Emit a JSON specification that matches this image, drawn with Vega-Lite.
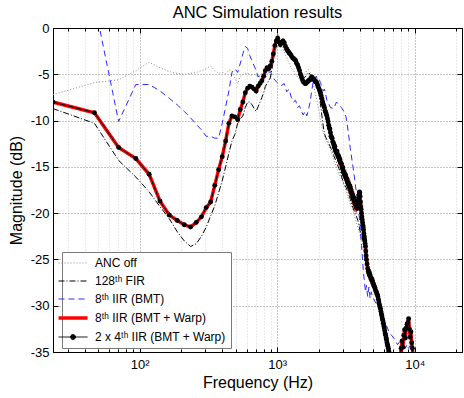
{
  "$schema": "https://vega.github.io/schema/vega-lite/v6.json",
  "width": 409,
  "height": 324,
  "autosize": {"type": "none"},
  "padding": {"left": 53, "top": 28, "right": 2, "bottom": 46},
  "config": {
    "font": "Liberation Sans",
    "view": {"stroke": "black", "strokeWidth": 1},
    "axis": {"labelColor": "black", "titleColor": "black", "tickColor": "black", "domainColor": "black", "labelFontSize": 13, "titleFontSize": 16, "titleFontWeight": "normal", "labelFont": "Liberation Sans", "titleFont": "Liberation Sans"}
  },
  "title": {"text": "ANC Simulation results", "fontSize": 16.5, "fontWeight": "normal", "color": "black", "offset": 1, "font": "Liberation Sans"},
  "datasets": {
    "off": [
      {"f": 23.4, "v": -7.2}, {"f": 46.9, "v": -5.9}, {"f": 70.3, "v": -5.6}, {"f": 93.8, "v": -4.6}, {"f": 117.2, "v": -3.7},
      {"f": 140.6, "v": -4.3}, {"f": 164.1, "v": -4.7}, {"f": 187.5, "v": -4.9}, {"f": 210.9, "v": -5.0}, {"f": 234.4, "v": -4.9},
      {"f": 257.8, "v": -4.8}, {"f": 281.3, "v": -4.6}, {"f": 304.7, "v": -4.4}, {"f": 328.1, "v": -4.1}, {"f": 351.6, "v": -4.6},
      {"f": 375, "v": -4.9}, {"f": 398.4, "v": -4.8}, {"f": 421.9, "v": -4.9}, {"f": 445.3, "v": -4.5}, {"f": 468.8, "v": -4.7},
      {"f": 492.2, "v": -5.4}, {"f": 515.6, "v": -6.0}, {"f": 539.1, "v": -5.2}, {"f": 562.5, "v": -5.0}, {"f": 585.9, "v": -4.9},
      {"f": 609.4, "v": -4.9}, {"f": 656.3, "v": -5.1}, {"f": 703.1, "v": -5.0}, {"f": 750, "v": -5.3}, {"f": 796.9, "v": -5.6},
      {"f": 843.8, "v": -5.0}, {"f": 890.6, "v": -4.4}, {"f": 937.5, "v": -3.2}, {"f": 984.4, "v": -2.2}, {"f": 1031.3, "v": -1.8},
      {"f": 1078.1, "v": -2.0}, {"f": 1125, "v": -2.6}, {"f": 1171.9, "v": -3.2}, {"f": 1218.8, "v": -3.8}, {"f": 1265.6, "v": -4.3},
      {"f": 1312.5, "v": -4.6}, {"f": 1359.4, "v": -5.0}, {"f": 1406.3, "v": -5.3}, {"f": 1453.1, "v": -5.6}, {"f": 1500, "v": -5.5},
      {"f": 1546.9, "v": -5.2}, {"f": 1593.8, "v": -4.9}, {"f": 1640.6, "v": -4.6}, {"f": 1687.5, "v": -4.5}, {"f": 1734.4, "v": -4.8},
      {"f": 1781.3, "v": -5.4}, {"f": 1828.1, "v": -6.0}, {"f": 1875, "v": -6.8}, {"f": 1921.9, "v": -7.5}, {"f": 1968.8, "v": -8.2},
      {"f": 2015.6, "v": -9.0}, {"f": 2062.5, "v": -9.9}, {"f": 2109.4, "v": -10.6}, {"f": 2156.3, "v": -11.2}, {"f": 2203.1, "v": -11.5},
      {"f": 2250, "v": -12.0}, {"f": 2343.8, "v": -12.6}, {"f": 2437.5, "v": -13.2}, {"f": 2578.1, "v": -14.3}, {"f": 2695.3, "v": -15.0},
      {"f": 2812.5, "v": -15.8}, {"f": 2929.7, "v": -16.3}, {"f": 3046.9, "v": -17.0}, {"f": 3164.1, "v": -17.6}, {"f": 3281.3, "v": -18.3},
      {"f": 3398.4, "v": -19.0}, {"f": 3515.6, "v": -19.6}, {"f": 3632.8, "v": -20.2}, {"f": 3750, "v": -21.0}, {"f": 3867.2, "v": -21.6},
      {"f": 3984.4, "v": -22.3}, {"f": 4101.6, "v": -23.0}, {"f": 4242.2, "v": -24.0}, {"f": 4382.8, "v": -24.8}, {"f": 4546.9, "v": -25.6},
      {"f": 4734.4, "v": -26.4}, {"f": 4921.9, "v": -27.2}, {"f": 5156.3, "v": -28.0}, {"f": 5390.6, "v": -28.8}, {"f": 5625, "v": -30.0},
      {"f": 5859.4, "v": -31.2}, {"f": 6093.8, "v": -32.5}, {"f": 6328.1, "v": -33.8}, {"f": 6562.5, "v": -35.2}, {"f": 7031.3, "v": -37},
      {"f": 7968.8, "v": -36}, {"f": 8320.3, "v": -34.0}, {"f": 8671.9, "v": -33.4}, {"f": 9023.4, "v": -32.6}, {"f": 9375, "v": -33.8},
      {"f": 9726.6, "v": -35.5}
    ],
    "fir": [
      {"f": 23.4, "v": -8.7}, {"f": 46.9, "v": -10.3}, {"f": 70.3, "v": -14.3}, {"f": 93.8, "v": -16.1}, {"f": 117.2, "v": -17.7},
      {"f": 140.6, "v": -19.3}, {"f": 164.1, "v": -20.6}, {"f": 187.5, "v": -22.0}, {"f": 210.9, "v": -23.0}, {"f": 234.4, "v": -23.6},
      {"f": 257.8, "v": -23.3}, {"f": 281.3, "v": -22.5}, {"f": 304.7, "v": -21.5}, {"f": 328.1, "v": -20.3}, {"f": 351.6, "v": -19.2},
      {"f": 375, "v": -17.8}, {"f": 398.4, "v": -16.5}, {"f": 421.9, "v": -15.0}, {"f": 445.3, "v": -13.5}, {"f": 468.8, "v": -12.2},
      {"f": 492.2, "v": -11.5}, {"f": 515.6, "v": -10.3}, {"f": 539.1, "v": -9.8}, {"f": 562.5, "v": -9.5}, {"f": 585.9, "v": -8.6},
      {"f": 609.4, "v": -8.0}, {"f": 632.8, "v": -8.0}, {"f": 656.3, "v": -8.3}, {"f": 679.7, "v": -8.7}, {"f": 703.1, "v": -9.0},
      {"f": 726.6, "v": -8.5}, {"f": 750, "v": -8.0}, {"f": 773.4, "v": -7.5}, {"f": 796.9, "v": -7.0}, {"f": 820.3, "v": -6.3},
      {"f": 843.8, "v": -6.0}, {"f": 890.6, "v": -5.4}, {"f": 914.1, "v": -4.5}, {"f": 937.5, "v": -3.4}, {"f": 960.9, "v": -2.5},
      {"f": 984.4, "v": -1.8}, {"f": 1007.8, "v": -1.6}, {"f": 1031.3, "v": -1.8}, {"f": 1078.1, "v": -1.4}, {"f": 1125, "v": -1.3},
      {"f": 1171.9, "v": -1.8}, {"f": 1218.8, "v": -2.3}, {"f": 1265.6, "v": -2.6}, {"f": 1312.5, "v": -3.2}, {"f": 1359.4, "v": -3.6},
      {"f": 1406.3, "v": -4.0}, {"f": 1453.1, "v": -4.5}, {"f": 1500, "v": -5.0}, {"f": 1546.9, "v": -5.4}, {"f": 1593.8, "v": -5.3},
      {"f": 1640.6, "v": -5.1}, {"f": 1687.5, "v": -4.8}, {"f": 1734.4, "v": -5.0}, {"f": 1781.3, "v": -5.3}, {"f": 1828.1, "v": -5.2},
      {"f": 1875, "v": -5.5}, {"f": 1921.9, "v": -6.0}, {"f": 1968.8, "v": -6.6}, {"f": 2015.6, "v": -7.2}, {"f": 2062.5, "v": -8.2},
      {"f": 2109.4, "v": -9.4}, {"f": 2156.3, "v": -10.5}, {"f": 2203.1, "v": -11.4}, {"f": 2250, "v": -11.8}, {"f": 2343.8, "v": -12.3},
      {"f": 2460.9, "v": -13.0}, {"f": 2578.1, "v": -13.8}, {"f": 2695.3, "v": -14.5}, {"f": 2812.5, "v": -15.2}, {"f": 2929.7, "v": -16.0},
      {"f": 3046.9, "v": -16.8}, {"f": 3164.1, "v": -17.2}, {"f": 3281.3, "v": -17.8}, {"f": 3398.4, "v": -18.5}, {"f": 3515.6, "v": -19.2},
      {"f": 3632.8, "v": -19.8}, {"f": 3750, "v": -20.3}, {"f": 3867.2, "v": -20.8}, {"f": 3984.4, "v": -21.8}, {"f": 4101.6, "v": -22.5},
      {"f": 4218.8, "v": -23.0}, {"f": 4335.9, "v": -23.8}, {"f": 4453.1, "v": -24.5}, {"f": 4570.3, "v": -25.2}, {"f": 4687.5, "v": -25.8},
      {"f": 4921.9, "v": -26.8}, {"f": 5156.3, "v": -27.6}, {"f": 5390.6, "v": -28.4}, {"f": 5625, "v": -29.6}, {"f": 5859.4, "v": -30.8},
      {"f": 6093.8, "v": -32.0}, {"f": 6328.1, "v": -33.2}, {"f": 6562.5, "v": -34.5}, {"f": 6796.9, "v": -36}, {"f": 7968.8, "v": -36},
      {"f": 8203.1, "v": -34.5}, {"f": 8437.5, "v": -33.4}, {"f": 8671.9, "v": -33.0}, {"f": 8906.3, "v": -32.3}, {"f": 9140.6, "v": -33.0},
      {"f": 9375, "v": -33.6}, {"f": 9609.4, "v": -35}, {"f": 9843.8, "v": -37}
    ],
    "iir": [
      {"f": 23.4, "v": 6}, {"f": 46.9, "v": 2.7}, {"f": 70.3, "v": -10.1}, {"f": 93.8, "v": -6.1}, {"f": 117.2, "v": -6.1},
      {"f": 140.6, "v": -6.8}, {"f": 164.1, "v": -7.6}, {"f": 187.5, "v": -8.3}, {"f": 210.9, "v": -9.0}, {"f": 234.4, "v": -9.7},
      {"f": 257.8, "v": -10.4}, {"f": 281.3, "v": -11.0}, {"f": 304.7, "v": -11.7}, {"f": 328.1, "v": -11.7}, {"f": 351.6, "v": -11.9},
      {"f": 375, "v": -11.9}, {"f": 398.4, "v": -10.3}, {"f": 421.9, "v": -8.5}, {"f": 445.3, "v": -6.8}, {"f": 468.8, "v": -4.8},
      {"f": 492.2, "v": -4.4}, {"f": 515.6, "v": -4.8}, {"f": 539.1, "v": -3.8}, {"f": 562.5, "v": -2.8}, {"f": 585.9, "v": -2.0},
      {"f": 609.4, "v": -2.2}, {"f": 632.8, "v": -3.0}, {"f": 656.3, "v": -3.6}, {"f": 679.7, "v": -4.1}, {"f": 703.1, "v": -4.6},
      {"f": 726.6, "v": -5.3}, {"f": 750, "v": -5.0}, {"f": 773.4, "v": -4.9}, {"f": 796.9, "v": -5.1}, {"f": 820.3, "v": -5.3},
      {"f": 843.8, "v": -5.0}, {"f": 890.6, "v": -4.7}, {"f": 937.5, "v": -5.4}, {"f": 984.4, "v": -5.8}, {"f": 1031.3, "v": -6.1},
      {"f": 1078.1, "v": -6.2}, {"f": 1125, "v": -6.0}, {"f": 1171.9, "v": -6.9}, {"f": 1218.8, "v": -6.6}, {"f": 1265.6, "v": -7.5},
      {"f": 1312.5, "v": -8.0}, {"f": 1359.4, "v": -7.8}, {"f": 1406.3, "v": -8.6}, {"f": 1453.1, "v": -8.4}, {"f": 1500, "v": -9.0},
      {"f": 1546.9, "v": -9.4}, {"f": 1593.8, "v": -9.0}, {"f": 1640.6, "v": -9.5}, {"f": 1687.5, "v": -8.8}, {"f": 1734.4, "v": -8.0},
      {"f": 1781.3, "v": -6.8}, {"f": 1828.1, "v": -5.8}, {"f": 1875, "v": -5.5}, {"f": 1921.9, "v": -5.2}, {"f": 1968.8, "v": -5.6},
      {"f": 2015.6, "v": -5.5}, {"f": 2062.5, "v": -5.9}, {"f": 2109.4, "v": -6.3}, {"f": 2156.3, "v": -6.8}, {"f": 2203.1, "v": -6.6},
      {"f": 2250, "v": -7.2}, {"f": 2296.9, "v": -7.8}, {"f": 2343.8, "v": -8.0}, {"f": 2437.5, "v": -8.6}, {"f": 2578.1, "v": -8.7},
      {"f": 2695.3, "v": -8.0}, {"f": 2812.5, "v": -8.3}, {"f": 2929.7, "v": -8.6}, {"f": 3046.9, "v": -9.0}, {"f": 3164.1, "v": -9.6},
      {"f": 3281.3, "v": -11.2}, {"f": 3398.4, "v": -13.0}, {"f": 3515.6, "v": -14.5}, {"f": 3632.8, "v": -16.0}, {"f": 3750, "v": -17.6},
      {"f": 3867.2, "v": -19.0}, {"f": 3984.4, "v": -21.0}, {"f": 4101.6, "v": -23.5}, {"f": 4242.2, "v": -26.5}, {"f": 4382.8, "v": -28.5},
      {"f": 4453.1, "v": -27.8}, {"f": 4546.9, "v": -29.0}, {"f": 4640.6, "v": -28.0}, {"f": 4734.4, "v": -29.2}, {"f": 4828.1, "v": -28.5},
      {"f": 4921.9, "v": -29.0}, {"f": 5156.3, "v": -29.6}, {"f": 5390.6, "v": -30.0}, {"f": 5625, "v": -30.6}, {"f": 5859.4, "v": -31.2},
      {"f": 6093.8, "v": -31.8}, {"f": 6328.1, "v": -32.4}, {"f": 6562.5, "v": -33.0}, {"f": 6796.9, "v": -33.2}, {"f": 7031.3, "v": -33.5},
      {"f": 7500, "v": -34.2}, {"f": 7851.6, "v": -33.8}, {"f": 8085.9, "v": -34.3}, {"f": 8320.3, "v": -33.9}, {"f": 8554.7, "v": -34.6},
      {"f": 8789.1, "v": -34.2}, {"f": 9023.4, "v": -34.6}, {"f": 9257.8, "v": -34.3}, {"f": 9492.2, "v": -34.8}, {"f": 9726.6, "v": -36}
    ],
    "main": [
      {"f": 23.4, "v": -8.0}, {"f": 46.9, "v": -9.15}, {"f": 70.3, "v": -12.9}, {"f": 93.8, "v": -14.1}, {"f": 117.2, "v": -15.8},
      {"f": 140.6, "v": -18.7}, {"f": 164.1, "v": -20.2}, {"f": 187.5, "v": -20.8}, {"f": 210.9, "v": -21.25}, {"f": 234.4, "v": -21.5},
      {"f": 257.8, "v": -21.0}, {"f": 281.3, "v": -20.4}, {"f": 304.7, "v": -19.4}, {"f": 328.1, "v": -18.8}, {"f": 351.6, "v": -17.0},
      {"f": 375, "v": -15.3}, {"f": 398.4, "v": -13.9}, {"f": 421.9, "v": -12.2}, {"f": 445.3, "v": -10.3}, {"f": 468.8, "v": -9.5},
      {"f": 492.2, "v": -9.6}, {"f": 515.6, "v": -9.9}, {"f": 539.1, "v": -8.8}, {"f": 562.5, "v": -8.0}, {"f": 585.9, "v": -7.0},
      {"f": 609.4, "v": -6.5}, {"f": 632.8, "v": -6.3}, {"f": 656.3, "v": -6.4}, {"f": 679.7, "v": -6.6}, {"f": 703.1, "v": -6.8},
      {"f": 726.6, "v": -6.3}, {"f": 750, "v": -6.0}, {"f": 773.4, "v": -5.7}, {"f": 796.9, "v": -5.2}, {"f": 820.3, "v": -4.6},
      {"f": 843.8, "v": -4.3}, {"f": 867.2, "v": -4.4}, {"f": 890.6, "v": -4.1}, {"f": 914.1, "v": -3.6}, {"f": 937.5, "v": -2.8},
      {"f": 960.9, "v": -1.9}, {"f": 984.4, "v": -1.4}, {"f": 1007.8, "v": -1.1}, {"f": 1031.3, "v": -1.5}, {"f": 1054.7, "v": -1.8},
      {"f": 1078.1, "v": -1.6}, {"f": 1101.6, "v": -1.4}, {"f": 1125, "v": -1.6}, {"f": 1148.4, "v": -2.0}, {"f": 1171.9, "v": -2.3},
      {"f": 1195.3, "v": -2.5}, {"f": 1218.8, "v": -2.7}, {"f": 1242.2, "v": -2.8}, {"f": 1265.6, "v": -3.0}, {"f": 1289.1, "v": -3.2},
      {"f": 1312.5, "v": -3.3}, {"f": 1335.9, "v": -3.4}, {"f": 1359.4, "v": -3.5}, {"f": 1382.8, "v": -3.8}, {"f": 1406.3, "v": -4.0},
      {"f": 1429.7, "v": -4.3}, {"f": 1453.1, "v": -4.6}, {"f": 1476.6, "v": -5.0}, {"f": 1500, "v": -5.3}, {"f": 1523.4, "v": -5.6},
      {"f": 1546.9, "v": -5.8}, {"f": 1570.3, "v": -5.9}, {"f": 1593.8, "v": -6.0}, {"f": 1617.2, "v": -6.0}, {"f": 1640.6, "v": -5.9},
      {"f": 1664.1, "v": -5.8}, {"f": 1687.5, "v": -5.7}, {"f": 1710.9, "v": -5.6}, {"f": 1734.4, "v": -5.6}, {"f": 1757.8, "v": -5.4},
      {"f": 1781.3, "v": -5.3}, {"f": 1804.7, "v": -5.4}, {"f": 1828.1, "v": -5.5}, {"f": 1851.6, "v": -5.6}, {"f": 1875, "v": -5.7},
      {"f": 1898.4, "v": -5.8}, {"f": 1921.9, "v": -5.8}, {"f": 1945.3, "v": -6.0}, {"f": 1968.8, "v": -6.2}, {"f": 1992.2, "v": -6.4},
      {"f": 2015.6, "v": -6.6}, {"f": 2039.1, "v": -6.8}, {"f": 2062.5, "v": -7.0}, {"f": 2085.9, "v": -7.3}, {"f": 2109.4, "v": -7.6},
      {"f": 2132.8, "v": -7.9}, {"f": 2156.3, "v": -8.2}, {"f": 2179.7, "v": -8.4}, {"f": 2203.1, "v": -8.6}, {"f": 2226.6, "v": -8.9},
      {"f": 2250, "v": -9.1}, {"f": 2273.4, "v": -9.3}, {"f": 2296.9, "v": -9.5}, {"f": 2320.3, "v": -9.8},
      {"f": 2343.8, "v": -10.1}, {"f": 2367.2, "v": -10.5}, {"f": 2390.6, "v": -10.8}, {"f": 2414.1, "v": -10.9}, {"f": 2437.5, "v": -11.3},
      {"f": 2460.9, "v": -11.7}, {"f": 2484.4, "v": -11.8}, {"f": 2507.8, "v": -11.9}, {"f": 2531.3, "v": -12.3}, {"f": 2554.7, "v": -12.4},
      {"f": 2578.1, "v": -12.6}, {"f": 2601.6, "v": -12.9}, {"f": 2625, "v": -12.8}, {"f": 2648.4, "v": -13.2}, {"f": 2671.9, "v": -13.4},
      {"f": 2695.3, "v": -13.5}, {"f": 2718.8, "v": -13.3}, {"f": 2742.2, "v": -13.7}, {"f": 2765.6, "v": -13.9}, {"f": 2789.1, "v": -13.8},
      {"f": 2812.5, "v": -14.0}, {"f": 2835.9, "v": -14.3}, {"f": 2859.4, "v": -14.2}, {"f": 2882.8, "v": -14.5}, {"f": 2906.3, "v": -14.6},
      {"f": 2929.7, "v": -14.7}, {"f": 2953.1, "v": -15.0}, {"f": 2976.6, "v": -15.2}, {"f": 3000, "v": -15.1}, {"f": 3023.4, "v": -15.5},
      {"f": 3046.9, "v": -15.6}, {"f": 3070.3, "v": -15.7}, {"f": 3093.8, "v": -15.9}, {"f": 3117.2, "v": -15.8}, {"f": 3140.6, "v": -16.1},
      {"f": 3164.1, "v": -16.2}, {"f": 3187.5, "v": -16.4}, {"f": 3210.9, "v": -16.3}, {"f": 3234.4, "v": -16.6}, {"f": 3257.8, "v": -16.7},
      {"f": 3281.3, "v": -16.8}, {"f": 3304.7, "v": -17.0}, {"f": 3328.1, "v": -16.9}, {"f": 3351.6, "v": -17.2}, {"f": 3375, "v": -17.1},
      {"f": 3398.4, "v": -17.3}, {"f": 3421.9, "v": -17.6}, {"f": 3445.3, "v": -17.5}, {"f": 3468.8, "v": -17.8}, {"f": 3492.2, "v": -17.9},
      {"f": 3515.6, "v": -18.0}, {"f": 3539.1, "v": -18.3}, {"f": 3562.5, "v": -18.2}, {"f": 3585.9, "v": -18.5}, {"f": 3609.4, "v": -18.4},
      {"f": 3632.8, "v": -18.6}, {"f": 3656.3, "v": -18.9}, {"f": 3679.7, "v": -18.8}, {"f": 3703.1, "v": -19.1}, {"f": 3726.6, "v": -19.0},
      {"f": 3750, "v": -19.2}, {"f": 3773.4, "v": -19.4}, {"f": 3796.9, "v": -19.3}, {"f": 3820.3, "v": -19.5}, {"f": 3843.8, "v": -19.2},
      {"f": 3867.2, "v": -19.0}, {"f": 3890.6, "v": -18.7}, {"f": 3914.1, "v": -18.3}, {"f": 3937.5, "v": -18.0}, {"f": 3960.9, "v": -17.7},
      {"f": 3984.4, "v": -17.8}, {"f": 4007.8, "v": -18.2}, {"f": 4031.3, "v": -18.8}, {"f": 4054.7, "v": -19.3}, {"f": 4078.1, "v": -19.6},
      {"f": 4101.6, "v": -20.0}, {"f": 4125, "v": -20.4}, {"f": 4148.4, "v": -20.7}, {"f": 4171.9, "v": -21.0}, {"f": 4195.3, "v": -21.3},
      {"f": 4218.8, "v": -21.5}, {"f": 4242.2, "v": -21.8}, {"f": 4265.6, "v": -22.2}, {"f": 4289.1, "v": -22.5}, {"f": 4312.5, "v": -22.8},
      {"f": 4335.9, "v": -23.0}, {"f": 4359.4, "v": -23.3}, {"f": 4382.8, "v": -23.6}, {"f": 4406.3, "v": -24.1}, {"f": 4429.7, "v": -24.6},
      {"f": 4453.1, "v": -25.0}, {"f": 4500, "v": -25.5}, {"f": 4546.9, "v": -26.0}, {"f": 4593.8, "v": -26.3}, {"f": 4640.6, "v": -26.5},
      {"f": 4687.5, "v": -26.7}, {"f": 4734.4, "v": -26.8}, {"f": 4781.3, "v": -27.0}, {"f": 4828.1, "v": -27.2}, {"f": 4875, "v": -27.1},
      {"f": 4921.9, "v": -27.3}, {"f": 4968.8, "v": -27.6}, {"f": 5015.6, "v": -27.7}, {"f": 5062.5, "v": -27.9}, {"f": 5109.4, "v": -28.0},
      {"f": 5156.3, "v": -28.2}, {"f": 5203.1, "v": -28.4}, {"f": 5250, "v": -28.5}, {"f": 5296.9, "v": -28.7}, {"f": 5343.8, "v": -28.8},
      {"f": 5390.6, "v": -29.0}, {"f": 5437.5, "v": -29.3}, {"f": 5484.4, "v": -29.6}, {"f": 5531.3, "v": -29.9}, {"f": 5578.1, "v": -30.1},
      {"f": 5625, "v": -30.3}, {"f": 5671.9, "v": -30.6}, {"f": 5718.8, "v": -30.9}, {"f": 5765.6, "v": -31.1}, {"f": 5812.5, "v": -31.4},
      {"f": 5859.4, "v": -31.6}, {"f": 5906.3, "v": -31.9}, {"f": 5953.1, "v": -32.2}, {"f": 6000, "v": -32.4}, {"f": 6046.9, "v": -32.7},
      {"f": 6093.8, "v": -33.0}, {"f": 6140.6, "v": -33.2}, {"f": 6187.5, "v": -33.5}, {"f": 6234.4, "v": -33.7}, {"f": 6281.3, "v": -34.0},
      {"f": 6328.1, "v": -34.2}, {"f": 6375, "v": -34.4}, {"f": 6421.9, "v": -34.6}, {"f": 6468.8, "v": -34.9}, {"f": 6515.6, "v": -35.1},
      {"f": 6562.5, "v": -35.5}, {"f": 6796.9, "v": -37}, {"f": 7031.3, "v": -38},
      {"f": 7500, "v": -37}, {"f": 7851.6, "v": -35.5}, {"f": 7968.8, "v": -34.6}, {"f": 8085.9, "v": -33.8}, {"f": 8203.1, "v": -34.5},
      {"f": 8320.3, "v": -33.2}, {"f": 8437.5, "v": -32.6}, {"f": 8554.7, "v": -33.5}, {"f": 8671.9, "v": -32.4}, {"f": 8789.1, "v": -32.0},
      {"f": 8906.3, "v": -31.8}, {"f": 9023.4, "v": -31.4}, {"f": 9140.6, "v": -32.5}, {"f": 9257.8, "v": -33.4}, {"f": 9375, "v": -32.8},
      {"f": 9492.2, "v": -34.0}, {"f": 9609.4, "v": -34.6}, {"f": 9726.6, "v": -35.5}, {"f": 10078.1, "v": -38}
    ]
  },
  "resolve": {"axis": {"x": "independent", "y": "independent"}},
  "layer": [
    {
      "data": {"name": "off"},
      "mark": {"type": "line", "clip": true, "strokeWidth": 1, "strokeDash": [1, 2]},
      "encoding": {
        "x": {"field": "f", "type": "quantitative", "scale": {"type": "log", "domain": [23.4375, 22050], "nice": false},
          "axis": {"orient": "bottom", "values": [100, 1000, 10000], "labelExpr": "datum.value == 100 ? '10²' : datum.value == 1000 ? '10³' : '10⁴'", "labelOverlap": false, "labelFlush": false, "title": "Frequency (Hz)", "grid": true, "gridColor": "#8a8a8a", "gridDash": [1, 2], "tickSize": -5, "labelPadding": 11, "titlePadding": 3}},
        "y": {"field": "v", "type": "quantitative", "scale": {"domain": [-35, 0], "nice": false, "zero": false},
          "axis": {"orient": "left", "values": [-35, -30, -25, -20, -15, -10, -5, 0], "labelExpr": "'' + datum.value", "title": "Magnitude (dB)", "grid": true, "gridColor": "#8a8a8a", "gridDash": [1, 2], "tickSize": -5, "labelPadding": 9, "titlePadding": 6}},
        "color": {"datum": "off", "scale": {"domain": ["off", "fir", "iir", "warp", "two"], "range": ["#8c8c8c", "#000000", "#2b2bff", "#ff0000", "#000000"]},
          "legend": {"orient": "none", "legendX": 9, "legendY": 224, "title": null, "direction": "vertical", "fillColor": "white", "strokeColor": "#7a7a7a", "padding": 5, "rowPadding": 6, "labelFontSize": 12, "labelColor": "black", "labelFont": "Liberation Sans", "symbolType": "stroke", "symbolSize": 841, "symbolStrokeWidth": 1, "labelOffset": 16, "symbolLimit": 0,
            "labelExpr": "datum.value == 'off' ? 'ANC off' : datum.value == 'fir' ? '128ᵗʰ FIR' : datum.value == 'iir' ? '8ᵗʰ IIR (BMT)' : datum.value == 'warp' ? '8ᵗʰ IIR (BMT + Warp)' : '2 x 4ᵗʰ IIR (BMT + Warp)'",
            "encode": {"symbols": {"update": {
              "strokeDash": {"signal": "datum.value == 'off' ? [1, 2] : datum.value == 'fir' ? [6, 2, 1, 2] : datum.value == 'iir' ? [6, 4] : [1, 0]"},
              "strokeWidth": {"signal": "datum.value == 'warp' ? 3.5 : 1"},
              "shape": {"signal": "datum.value == 'two' ? 'M-1,0H1M0.17,0A0.17,0.17,0,1,1,-0.17,0A0.17,0.17,0,1,1,0.17,0Z' : 'stroke'"},
              "fill": {"signal": "datum.value == 'two' ? '#000000' : 'transparent'"}
            }}}}}
      }
    },
    {
      "data": {"name": "fir"},
      "mark": {"type": "line", "clip": true, "strokeWidth": 1, "strokeDash": [6, 2, 1, 2]},
      "encoding": {
        "x": {"field": "f", "type": "quantitative", "scale": {"type": "log", "domain": [23.4375, 22050], "nice": false},
          "axis": {"orient": "top", "values": [30, 40, 50, 60, 70, 80, 90, 200, 300, 400, 500, 600, 700, 800, 900, 2000, 3000, 4000, 5000, 6000, 7000, 8000, 9000, 20000], "labels": false, "title": null, "grid": true, "gridColor": "#d4d4d4", "gridDash": [1, 2], "tickSize": -3}},
        "y": {"field": "v", "type": "quantitative", "scale": {"domain": [-35, 0], "nice": false, "zero": false},
          "axis": {"orient": "right", "values": [-35, -30, -25, -20, -15, -10, -5, 0], "labels": false, "title": null, "grid": false, "tickSize": -5}},
        "color": {"datum": "fir"}
      }
    },
    {
      "data": {"name": "iir"},
      "mark": {"type": "line", "clip": true, "strokeWidth": 1, "strokeDash": [6, 4]},
      "encoding": {
        "x": {"field": "f", "type": "quantitative", "scale": {"type": "log", "domain": [23.4375, 22050], "nice": false},
          "axis": {"orient": "bottom", "values": [30, 40, 50, 60, 70, 80, 90, 200, 300, 400, 500, 600, 700, 800, 900, 2000, 3000, 4000, 5000, 6000, 7000, 8000, 9000, 20000], "labels": false, "title": null, "grid": false, "domain": false, "tickSize": -3}},
        "y": {"field": "v", "type": "quantitative", "scale": {"domain": [-35, 0], "nice": false, "zero": false}, "axis": null},
        "color": {"datum": "iir"}
      }
    },
    {
      "data": {"name": "main"},
      "mark": {"type": "line", "clip": true, "strokeWidth": 3.5},
      "encoding": {
        "x": {"field": "f", "type": "quantitative", "scale": {"type": "log", "domain": [23.4375, 22050], "nice": false},
          "axis": {"orient": "top", "values": [100, 1000, 10000], "labels": false, "title": null, "grid": false, "domain": false, "tickSize": -5}},
        "y": {"field": "v", "type": "quantitative", "scale": {"domain": [-35, 0], "nice": false, "zero": false}, "axis": null},
        "color": {"datum": "warp"}
      }
    },
    {
      "data": {"name": "main"},
      "mark": {"type": "line", "clip": true, "strokeWidth": 1},
      "encoding": {
        "x": {"field": "f", "type": "quantitative", "scale": {"type": "log", "domain": [23.4375, 22050], "nice": false}, "axis": null},
        "y": {"field": "v", "type": "quantitative", "scale": {"domain": [-35, 0], "nice": false, "zero": false}, "axis": null},
        "color": {"datum": "two"}
      }
    },
    {
      "data": {"name": "main"},
      "mark": {"type": "point", "clip": true, "filled": true, "shape": "circle", "size": 24, "opacity": 1},
      "encoding": {
        "x": {"field": "f", "type": "quantitative", "scale": {"type": "log", "domain": [23.4375, 22050], "nice": false}, "axis": null},
        "y": {"field": "v", "type": "quantitative", "scale": {"domain": [-35, 0], "nice": false, "zero": false}, "axis": null},
        "color": {"datum": "two"}
      }
    }
  ]
}
